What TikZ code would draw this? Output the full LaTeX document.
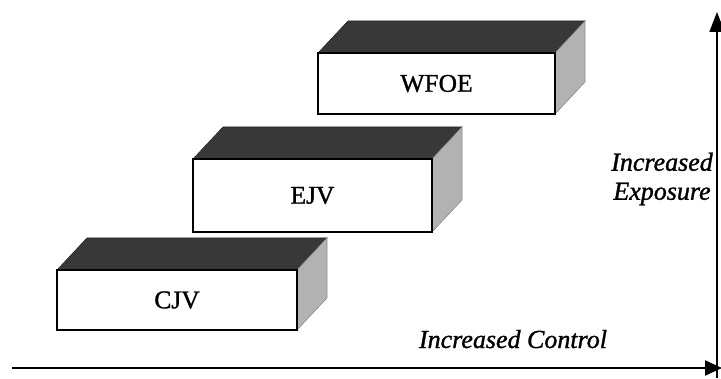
\documentclass[tikz,border=0pt]{standalone}
\usepackage{fontspec}
\setmainfont{Liberation Serif}
\newfontfamily\scanfont[FakeBold=1.2]{Liberation Serif}
\usetikzlibrary{arrows.meta,calc}
\tikzset{
  front/.style={draw=black, line width=2pt, fill=white, minimum width=#1, inner sep=0pt},
  topface/.style={fill=black!78, draw=black!85, line width=0.6pt},
  sideface/.style={fill=black!30, draw=black!45, line width=0.6pt},
  boxlabel/.style={font=\scanfont\fontsize{25.5}{28}\selectfont},
  axislabel/.style={font=\scanfont\itshape\fontsize{26}{29}\selectfont},
  axis/.style={line width=2.2pt, -{Triangle[length=17pt,width=15pt]}},
  vaxis/.style={line width=1.6pt, -{Triangle[length=20pt,width=15pt]}},
}
\newcommand{\solidbox}[6]{% name, x, y, w, h, text
  \coordinate (#1-c) at (#2,#3);
  \fill[topface] ($(#1-c)+(-#4/2,#5/2)$) -- ($(#1-c)+(#4/2,#5/2)$) -- ++(30,32) -- ($(#1-c)+(-#4/2+30,#5/2+32)$) -- cycle;
  \fill[sideface] ($(#1-c)+(#4/2,#5/2)$) -- ($(#1-c)+(#4/2,-#5/2)$) -- ++(30,32) -- ($(#1-c)+(#4/2+30,#5/2+32)$) -- cycle;
  \node[front=#4pt, minimum height=#5pt, boxlabel] (#1) at (#1-c) {#6};
}
\begin{document}
\begin{tikzpicture}[x=1pt,y=1pt]
\useasboundingbox (0,0) rectangle (721,378);
\solidbox{cjv}{177}{78}{240}{60}{CJV}
\solidbox{ejv}{312.5}{182.5}{239}{73}{EJV}
\solidbox{wfoe}{436.5}{294.5}{237}{61}{WFOE}
\coordinate (hstart) at (12,10);
\coordinate (hend) at (722,10);
\coordinate (vstart) at (717,0);
\coordinate (vend) at (717,366);
\draw[axis] (hstart) -- (hend);
\draw[vaxis] (vstart) -- (vend);
\node[axislabel, anchor=base] (ctl) at (513,30) {Increased Control};
\node[axislabel, align=center, inner sep=0pt] (exp) at (662,199) {Increased\\Exposure};
\end{tikzpicture}
\end{document}
